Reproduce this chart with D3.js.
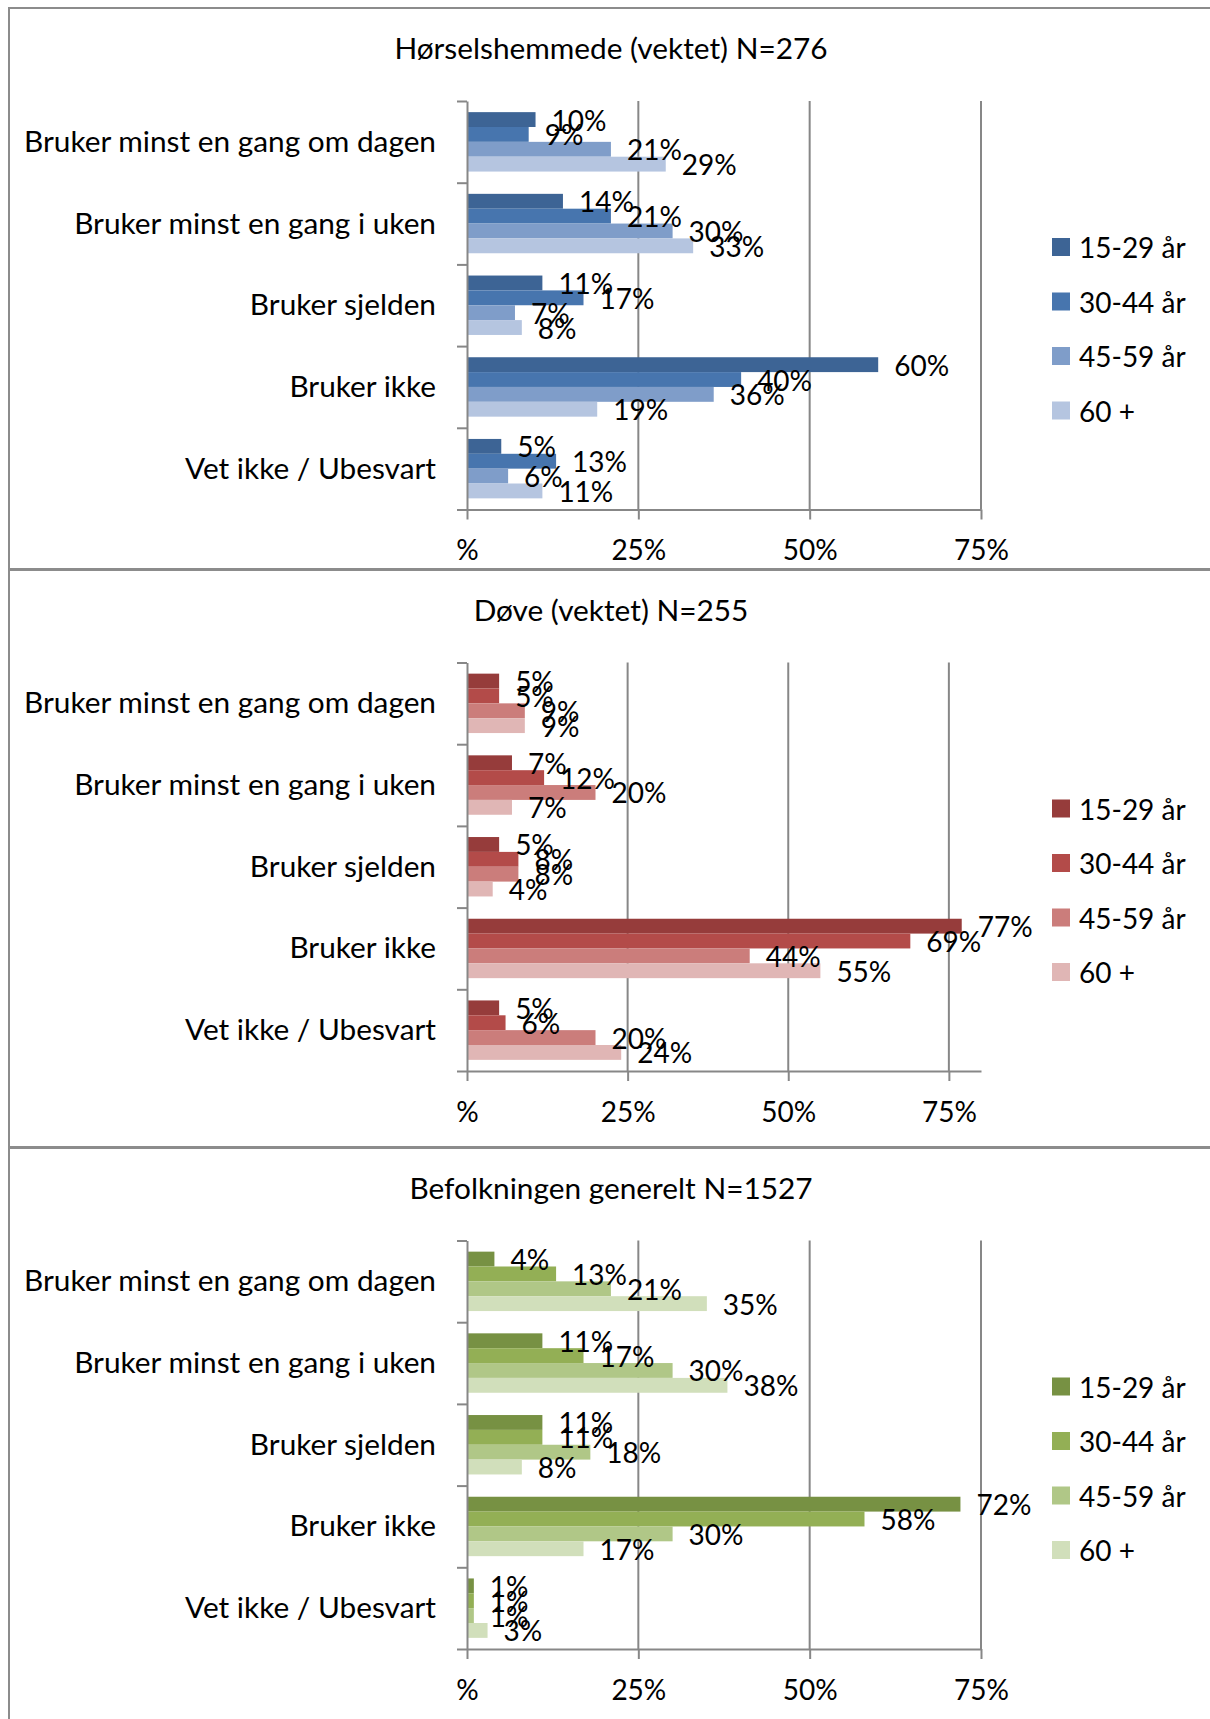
<!DOCTYPE html>
<html>
<head>
<meta charset="utf-8">
<script src="https://cdn.jsdelivr.net/npm/d3@7"></script>
<style>
  html, body { margin: 0; padding: 0; background: #fff; }
  svg { display: block; }
  text { font-family: Lato, "Open Sans", sans-serif; fill: #000; }
</style>
</head>
<body>
<svg id="chart" width="1210" height="1719"></svg>
<script>
// ---------- data ----------
const categories = [
  "Bruker minst en gang om dagen",
  "Bruker minst en gang i uken",
  "Bruker sjelden",
  "Bruker ikke",
  "Vet ikke / Ubesvart"
];
const ageGroups = ["15-29 år", "30-44 år", "45-59 år", "60 +"];
const tickValues = [0, 25, 50, 75];
const tickLabels = ["%", "25%", "50%", "75%"];

const titles = [
  "Hørselshemmede (vektet) N=276",
  "Døve (vektet) N=255",
  "Befolkningen generelt N=1527"
];

// rows = categories, columns = age groups (percent)
const hoerselshemmedeValues = [
  [10, 9, 21, 29],
  [14, 21, 30, 33],
  [11, 17, 7, 8],
  [60, 40, 36, 19],
  [5, 13, 6, 11]
];
const doveValues = [
  [5, 5, 9, 9],
  [7, 12, 20, 7],
  [5, 8, 8, 4],
  [77, 69, 44, 55],
  [5, 6, 20, 24]
];
const befolkningenValues = [
  [4, 13, 21, 35],
  [11, 17, 30, 38],
  [11, 11, 18, 8],
  [72, 58, 30, 17],
  [1, 1, 1, 3]
];
const axisMaxima = [75, 80, 75];

const blueColors = ["#3d6495", "#4775ae", "#7f9dc9", "#b5c5e0"];
const redColors = ["#963c3b", "#b34b49", "#cb7d7b", "#e0b6b5"];
const greenColors = ["#779143", "#93af55", "#b0c787", "#d1dfbb"];

// ---------- layout ----------
const FONT = 28;       // numbers, legend
const FONT_TEXT = 29.8; // category labels, titles
const gray = "#878787";
const panels = [
  { top: 8,    bottom: 569,  plotTop: 101,    values: hoerselshemmedeValues, colors: blueColors },
  { top: 570,  bottom: 1147, plotTop: 662.5,  values: doveValues,            colors: redColors },
  { top: 1148, bottom: 1740, plotTop: 1240.5, values: befolkningenValues,    colors: greenColors }
];
const plotLeft = 467, plotRight = 981, plotH = 408.5;

const svg = d3.select("#chart");

panels.forEach((p, pi) => {
  const g = svg.append("g");

  // panel border
  g.append("rect")
    .attr("x", 9).attr("y", p.top)
    .attr("width", 1230).attr("height", p.bottom - p.top)
    .attr("fill", "none").attr("stroke", "#8c8c8c").attr("stroke-width", 2);

  // title
  g.append("text")
    .attr("x", 611).attr("y", p.top + 39)
    .attr("text-anchor", "middle").attr("dominant-baseline", "central")
    .style("font-size", FONT_TEXT + "px")
    .text(titles[pi]);

  const x = d3.scaleLinear().domain([0, axisMaxima[pi]]).range([plotLeft, plotRight]);
  const y = d3.scaleBand().domain(categories).range([p.plotTop, p.plotTop + plotH]).padding(0);
  const yInner = d3.scaleBand().domain(ageGroups).range([0, y.bandwidth()])
    .paddingInner(0).paddingOuter(0.75);
  const yEdges = d3.scaleLinear().domain([0, categories.length]).range([p.plotTop, p.plotTop + plotH]);
  const plotBottom = p.plotTop + plotH;

  // gridlines
  g.append("g").selectAll("line")
    .data(tickValues.filter(v => v > 0))
    .join("line")
    .attr("x1", d => x(d)).attr("x2", d => x(d))
    .attr("y1", p.plotTop).attr("y2", plotBottom)
    .attr("stroke", gray).attr("stroke-width", 2);

  // bars
  const rows = g.append("g").selectAll("g")
    .data(categories.map((c, ci) => ({ cat: c, vals: p.values[ci] })))
    .join("g")
    .attr("transform", d => `translate(0,${y(d.cat)})`);

  rows.selectAll("rect")
    .data(d => d.vals.map((v, si) => ({ v, s: ageGroups[si], si })))
    .join("rect")
    .attr("x", x(0))
    .attr("y", d => yInner(d.s))
    .attr("width", d => x(d.v) - x(0))
    .attr("height", yInner.bandwidth())
    .attr("fill", d => p.colors[d.si]);

  // axes
  const xAxis = d3.axisBottom(x)
    .tickValues(tickValues)
    .tickFormat((d, i) => tickLabels[i])
    .tickSizeInner(10).tickSizeOuter(0).tickPadding(21);
  const xg = g.append("g").attr("transform", `translate(0,${plotBottom})`).call(xAxis);
  xg.selectAll("line").attr("stroke", gray).attr("stroke-width", 2);
  xg.select(".domain").attr("stroke", gray).attr("stroke-width", 2);
  xg.selectAll("text").style("font-size", FONT + "px").style("font-family", "Lato").attr("fill", "#000");

  const yAxis = d3.axisLeft(yEdges)
    .tickValues(d3.range(categories.length + 1))
    .tickFormat("")
    .tickSizeInner(10).tickSizeOuter(0);
  const yg = g.append("g").attr("transform", `translate(${plotLeft},0)`).call(yAxis);
  yg.selectAll("line").attr("stroke", gray).attr("stroke-width", 2);
  yg.select(".domain").attr("stroke", gray).attr("stroke-width", 2);

  // category labels
  g.append("g").selectAll("text")
    .data(categories)
    .join("text")
    .attr("x", 436)
    .attr("y", d => y(d) + y.bandwidth() / 2 - 1.5)
    .attr("text-anchor", "end").attr("dominant-baseline", "central")
    .style("font-size", FONT_TEXT + "px")
    .text(d => d);

  // data labels
  rows.selectAll("text.val")
    .data(d => d.vals.map((v, si) => ({ v, s: ageGroups[si] })))
    .join("text")
    .attr("class", "val")
    .attr("x", d => x(d.v) + 16)
    .attr("y", d => yInner(d.s) + yInner.bandwidth() / 2)
    .attr("dominant-baseline", "central")
    .style("font-size", FONT + "px")
    .text(d => d.v + "%");

  // legend
  const leg = g.append("g").selectAll("g")
    .data(ageGroups)
    .join("g")
    .attr("transform", (d, i) => `translate(1052,${p.plotTop + 146 + i * 54.5})`);
  leg.append("rect")
    .attr("x", 0).attr("y", -9).attr("width", 18).attr("height", 18)
    .attr("fill", (d, i) => p.colors[i]);
  leg.append("text")
    .attr("x", 27).attr("y", 0)
    .attr("dominant-baseline", "central")
    .style("font-size", FONT + "px")
    .text(d => d);
});
</script>
</body>
</html>
